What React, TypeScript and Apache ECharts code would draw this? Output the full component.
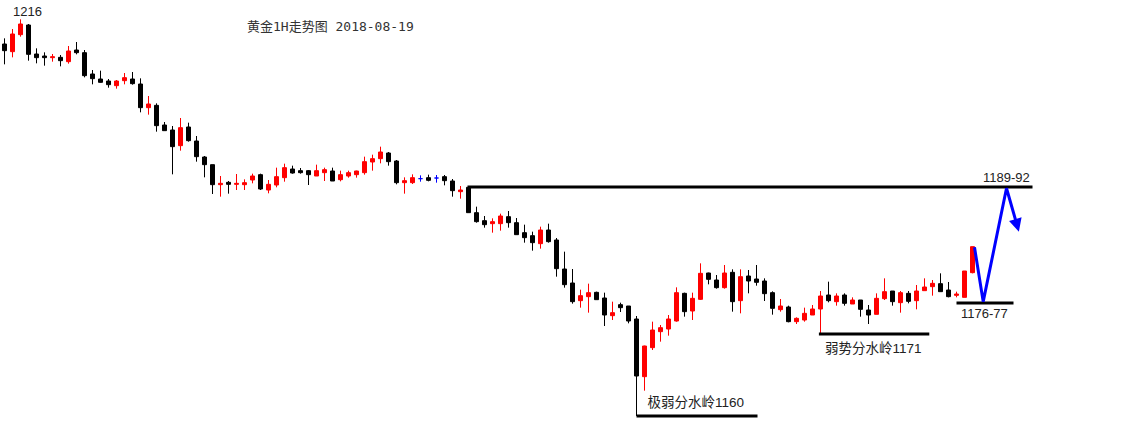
import React, { useEffect, useRef } from "react";
import * as echarts from "echarts";

// Gold 1H bars, each row: [open, close, low, high]
const ohlc: number[][] = [
  [1212.4, 1211.4, 1209.35, 1213.25],
  [1211.25, 1213.9, 1210.4, 1214.65],
  [1213.8, 1215.4, 1213.5, 1216.1],
  [1215.25, 1210.85, 1209.9, 1215.4],
  [1210.9, 1210.35, 1209.5, 1211.75],
  [1210.6, 1210.35, 1209.15, 1211.15],
  [1210.35, 1210.5, 1209.75, 1210.9],
  [1210.4, 1209.9, 1209.05, 1210.75],
  [1209.75, 1211.35, 1209.45, 1212.1],
  [1211.5, 1211.1, 1210.85, 1212.7],
  [1211.1, 1207.65, 1207.4, 1211.5],
  [1207.9, 1207.2, 1206.35, 1208.5],
  [1207.15, 1206.65, 1206.6, 1208.4],
  [1206.85, 1206.3, 1205.85, 1207.15],
  [1206.15, 1206.85, 1205.7, 1207],
  [1206.9, 1207.35, 1206.35, 1208.05],
  [1207.15, 1206.45, 1206.3, 1208.2],
  [1206.4, 1202.85, 1202.15, 1207.25],
  [1202.85, 1203.4, 1201.8, 1204.6],
  [1203.2, 1200.15, 1199.25, 1203.5],
  [1200.25, 1199.4, 1199.4, 1200.7],
  [1199.5, 1197, 1192.85, 1200.1],
  [1197.15, 1199.85, 1196.4, 1201.3],
  [1199.95, 1197.9, 1197.75, 1200.6],
  [1197.85, 1195.5, 1194.75, 1198.6],
  [1195.45, 1194.3, 1192.4, 1195.6],
  [1194.3, 1191.3, 1189.9, 1194.3],
  [1191.3, 1191.5, 1189.5, 1192.6],
  [1191.65, 1191.35, 1189.95, 1191.85],
  [1191.35, 1191.5, 1190.5, 1192.9],
  [1191.3, 1191.6, 1190.5, 1192.1],
  [1192, 1192.6, 1191.5, 1192.95],
  [1192.8, 1190.65, 1190.5, 1192.95],
  [1190.5, 1191.35, 1190, 1192],
  [1191.25, 1192.5, 1190.9, 1193.85],
  [1192.35, 1193.85, 1191.75, 1194.45],
  [1193.65, 1193.05, 1192.95, 1194.15],
  [1193.4, 1193.1, 1192.95, 1193.8],
  [1193.4, 1192.8, 1191.25, 1193.5],
  [1192.6, 1193.4, 1192.6, 1194.3],
  [1193.1, 1193.55, 1191.85, 1193.85],
  [1193.35, 1191.85, 1191.85, 1193.85],
  [1192.05, 1192.8, 1191.8, 1193.4],
  [1192.6, 1193.1, 1192.35, 1193.4],
  [1192.8, 1193.35, 1192.35, 1193.4],
  [1193.1, 1194.75, 1192.8, 1195.5],
  [1194.7, 1195.2, 1193.4, 1195.8],
  [1195.2, 1196.2, 1194.5, 1197],
  [1196.05, 1194.75, 1194.15, 1196.2],
  [1194.85, 1191.6, 1191.35, 1195],
  [1191.6, 1191.9, 1189.95, 1192.4],
  [1191.6, 1192.35, 1191.4, 1192.85],
  [1192.2, 1192.2, 1191.75, 1192.7],
  [1192.35, 1191.95, 1191.8, 1192.8],
  [1192.3, 1192.3, 1191.6, 1192.75],
  [1192.5, 1191.9, 1191.2, 1192.75],
  [1191.85, 1190.4, 1189.5, 1192.15],
  [1190.25, 1190.5, 1189.2, 1191.1],
  [1190.9, 1187.1, 1187.1, 1191],
  [1187.1, 1185.75, 1185.6, 1188],
  [1185.9, 1185.3, 1184.85, 1186.6],
  [1185.45, 1185.75, 1184.1, 1186.25],
  [1185.45, 1186.6, 1184.4, 1186.95],
  [1186.5, 1185.6, 1184.85, 1187.35],
  [1185.6, 1183.8, 1183.8, 1186.3],
  [1184.1, 1183.35, 1182.6, 1185.3],
  [1183.65, 1182.6, 1181.4, 1184.25],
  [1182.45, 1184.5, 1181.7, 1185],
  [1184.5, 1182.75, 1182.6, 1185.45],
  [1183, 1178.7, 1177.5, 1183.3],
  [1178.65, 1176.3, 1175.85, 1181.25],
  [1176.55, 1173.75, 1173.45, 1178.65],
  [1173.9, 1174.65, 1172.85, 1175.55],
  [1174.5, 1175.1, 1172.1, 1176.45],
  [1175.15, 1174.05, 1174.05, 1175.25],
  [1174.3, 1171.75, 1170.1, 1175.1],
  [1171.65, 1172.1, 1171, 1173.75],
  [1173.3, 1172.85, 1172.2, 1173.6],
  [1173.1, 1170.85, 1170.5, 1173.1],
  [1171.15, 1162.6, 1162.45, 1171.6],
  [1162.5, 1167.1, 1160.4, 1167.15],
  [1166.85, 1169.5, 1166.5, 1170.75],
  [1169.25, 1169.85, 1167.75, 1170.25],
  [1169.65, 1171.15, 1168.65, 1171.75],
  [1170.85, 1175.1, 1170.75, 1175.9],
  [1175, 1172.25, 1171.5, 1175.1],
  [1172.35, 1174.25, 1171, 1175.1],
  [1174.1, 1178, 1174, 1179.5],
  [1178.05, 1177.1, 1176.35, 1178.1],
  [1177, 1175.85, 1175.7, 1177.75],
  [1175.85, 1178.05, 1175.7, 1179.25],
  [1178.15, 1173.75, 1172.25, 1178.6],
  [1173.9, 1177.5, 1172, 1178.6],
  [1177.6, 1176.85, 1175, 1178.5],
  [1177.15, 1176.65, 1176.15, 1179.25],
  [1176.85, 1174.95, 1173.85, 1177.25],
  [1175.1, 1172.75, 1171.8, 1175.3],
  [1172.55, 1173.1, 1172.25, 1174.15],
  [1172.95, 1170.75, 1170.65, 1173.15],
  [1170.75, 1171.25, 1170.4, 1171.4],
  [1171, 1172, 1170.75, 1172.85],
  [1171.75, 1172.65, 1171.75, 1173.25],
  [1172.65, 1174.6, 1169.05, 1175.35],
  [1174.75, 1173.9, 1173.65, 1176.75],
  [1173.75, 1174.6, 1173.15, 1175],
  [1174.75, 1173.5, 1173.15, 1175],
  [1173.4, 1174, 1173.4, 1174.4],
  [1174, 1172.6, 1171.5, 1174],
  [1172.5, 1171.75, 1170.4, 1173.25],
  [1171.85, 1174.25, 1171.85, 1175],
  [1174.2, 1175.25, 1174, 1177.25],
  [1175.35, 1173.75, 1173.15, 1175.35],
  [1173.6, 1175.1, 1172.1, 1175.35],
  [1175, 1173.8, 1173.5, 1175.35],
  [1173.9, 1175.35, 1172.6, 1176.25],
  [1175.4, 1175.95, 1175.4, 1177.25],
  [1176, 1176.5, 1174.65, 1177],
  [1176.45, 1175.25, 1175.25, 1178],
  [1175.5, 1174.5, 1174.4, 1176.7],
  [1174.7, 1174.9, 1174.4, 1175.25],
  [1174.4, 1178.35, 1174.4, 1178.35],
  [1178.1, 1182, 1178, 1182],
];

// Bar slots along the time axis (bars + empty room for the projection)
const slotCount = 140;
const categories = Array.from({ length: slotCount }, (_, i) => `K${i + 1}`);

// Texts
const titleText = "黄金1H走势图 2018-08-19";
const highLabel = "1216";
const resistanceLabel = "1189-92";
const supportLabel = "1176-77";
const weakLabel = "弱势分水岭1171";
const extremeLabel = "极弱分水岭1160";

// Annotation lines: [bar index, price]
const resistanceLine = [[57.875, 1190.95], [128.5, 1190.95]];
const supportLine = [[119, 1173.55], [126.125, 1173.55]];
const weakLine = [[101.8, 1168.9], [115.6, 1168.9]];
const extremeDrop = [[79, 1162.6], [79, 1156.6]];
const extremeLine = [[79, 1156.6], [94.125, 1156.6]];
// Projected path (blue arrow)
const projection = [[121.25, 1181.9], [122.34, 1173.75], [125.25, 1190.76], [126.575, 1185.19]];

const RED = "#ff0000";
const BLACK = "#000000";
const BLUE = "#0000ff";
const TEXT = "#222222";
const LATIN = '"Liberation Sans", "Noto Sans CJK SC", sans-serif';

function hLine(data: number[][], width: number, color: string) {
  return {
    type: "line",
    xAxisIndex: 1,
    yAxisIndex: 0,
    data,
    symbol: "none",
    silent: true,
    lineStyle: { color, width, cap: "butt", join: "miter" },
    z: 3,
  };
}

export default function App() {
  const ref = useRef<HTMLDivElement>(null);

  useEffect(() => {
    if (!ref.current) return;
    const chart = echarts.init(ref.current, undefined, { renderer: "svg" });

    const candleData = ohlc.map((r) =>
      r[0] === r[1]
        ? {
            value: r,
            itemStyle: { color: BLUE, color0: BLUE, borderColor: BLUE, borderColor0: BLUE },
          }
        : r
    );

    const projData = projection.map((p, i) =>
      i === projection.length - 1
        ? { value: p, symbol: "triangle", symbolSize: [13, 13], symbolRotate: 196, itemStyle: { color: BLUE } }
        : { value: p, symbol: "none" }
    );

    const textStyleBase = { fill: TEXT, verticalAlign: "middle", align: "left" };

    chart.setOption({
      animation: false,
      backgroundColor: "#ffffff",
      title: {
        text: titleText,
        left: 247,
        top: 20,
        padding: 0,
        textStyle: {
          fontSize: 13,
          fontWeight: "normal",
          color: "#333333",
          fontFamily: '"DejaVu Sans Mono", "Noto Sans CJK SC", monospace',
        },
      },
      grid: { left: 0.5, top: 0, width: 1120, height: 424, containLabel: false },
      xAxis: [
        { type: "category", data: categories, show: false, boundaryGap: true },
        { type: "value", min: -0.5, max: slotCount - 0.5, show: false },
      ],
      yAxis: { type: "value", min: 1155.4, max: 1219, show: false, scale: true },
      series: [
        {
          type: "candlestick",
          xAxisIndex: 0,
          yAxisIndex: 0,
          data: candleData,
          barWidth: 4,
          silent: true,
          itemStyle: {
            color: RED,
            color0: BLACK,
            borderColor: RED,
            borderColor0: BLACK,
            borderColorDoji: BLUE,
            borderWidth: 1,
          },
          z: 2,
        },
        hLine(resistanceLine, 3, BLACK),
        hLine(supportLine, 3, BLACK),
        hLine(weakLine, 3, BLACK),
        hLine(extremeDrop, 1, BLACK),
        hLine(extremeLine, 3, BLACK),
        {
          type: "line",
          xAxisIndex: 1,
          yAxisIndex: 0,
          data: projData,
          symbol: "none",
          showSymbol: true,
          showAllSymbol: true,
          silent: true,
          lineStyle: { color: BLUE, width: 3, join: "miter", cap: "butt" },
          itemStyle: { color: BLUE },
          z: 4,
        },
      ],
      graphic: [
        {
          type: "text",
          x: 13,
          y: 11,
          style: { ...textStyleBase, text: highLabel, fontSize: 13, fontFamily: LATIN },
        },
        {
          type: "text",
          x: 983,
          y: 177,
          style: { ...textStyleBase, text: resistanceLabel, fontSize: 13, fontFamily: LATIN },
        },
        {
          type: "text",
          x: 961,
          y: 313.5,
          style: { ...textStyleBase, text: supportLabel, fontSize: 13, fontFamily: LATIN },
        },
        {
          type: "text",
          x: 825,
          y: 348,
          style: { ...textStyleBase, text: weakLabel, fontSize: 13.5, fontFamily: LATIN },
        },
        {
          type: "text",
          x: 647.5,
          y: 402.5,
          style: { ...textStyleBase, text: extremeLabel, fontSize: 13.5, fontFamily: LATIN },
        },
      ],
    });

    return () => chart.dispose();
  }, []);

  return (
    <div
      ref={ref}
      style={{ position: "fixed", left: 0, top: 0, width: 1125, height: 424, background: "#fff" }}
    />
  );
}
